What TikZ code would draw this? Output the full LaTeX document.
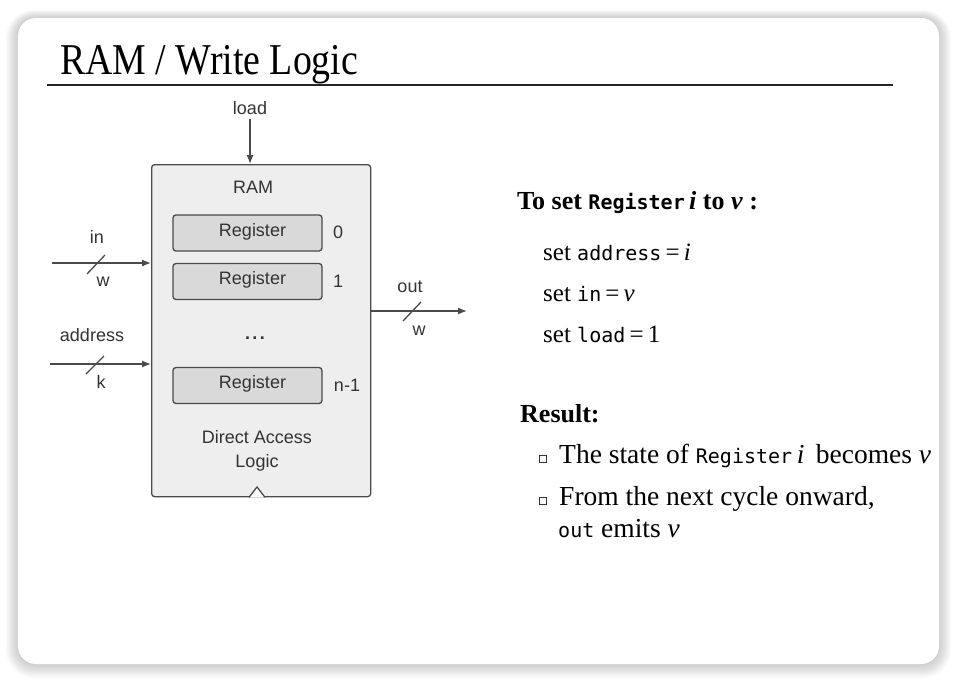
\documentclass[tikz,border=0pt]{standalone}
\usepackage{fontspec}
\setmainfont{Liberation Serif}
\setsansfont{Liberation Sans}
\setmonofont{DejaVu Sans Mono}
\usetikzlibrary{arrows.meta}
\definecolor{inkc}{HTML}{333333}
\definecolor{linec}{HTML}{4A4A4A}
\definecolor{ramfill}{HTML}{EEEEEE}
\definecolor{regfill}{HTML}{D9D9D9}
\tikzset{
  lab/.style={inner sep=0pt, text=inkc, font=\sffamily\fontsize{18}{21}\selectfont},
  rambox/.style={draw=linec, line width=1.3pt, fill=ramfill, rounded corners=3pt, anchor=north west, minimum width=219pt, minimum height=332pt, inner sep=0pt},
  regbox/.style={draw=linec, line width=1.3pt, fill=regfill, rounded corners=3pt, minimum width=149pt, minimum height=36pt, inner sep=0pt},
  arr/.style={draw=linec, line width=1.3pt, -{Latex[length=9pt,width=7pt]}},
  bus/.style={draw=linec, line width=1.3pt},
  txt/.style={anchor=base west, inner sep=0pt, text=black, font=\fontsize{25}{28}\selectfont},
  bul/.style={draw=inkc, line width=0.8pt, fill=white, minimum size=7pt, inner sep=0pt}
}
\begin{document}
\begin{tikzpicture}[x=1pt,y=-1pt]
\useasboundingbox (0,0) rectangle (957,683);
% card shadow
\foreach \k in {1,...,10}{
  \fill[black, opacity=0.018, rounded corners={18pt+\k pt}] (18-\k*1.2,18-\k*0.8) rectangle (939+\k*1.2,664+\k*1.4);
}
\fill[white, rounded corners=18pt] (18,18) rectangle (939,664);
% title
\node[anchor=base west, inner sep=0pt, xscale=0.86, font=\fontsize{44}{48}\selectfont] (title) at (60,74) {RAM / Write Logic};
\coordinate (rl) at (47,85);
\coordinate (rr) at (893,85);
\draw[line width=1.8pt, black!85] (rl) -- (rr);

% RAM box
\node[rambox] (ram) at (151,164) {};
\node[lab] (ramlab) at (253,187) {RAM};
\node[regbox] (r0) at (247.5,233) {};
\node[regbox] (r1) at (247.5,281.5) {};
\node[regbox] (rn) at (247.5,385.5) {};
\node[lab] (r0t) at (252.5,231.5) {Register};
\node[lab] (r1t) at (252.5,280) {Register};
\node[lab] (rnt) at (252.5,384) {Register};
\node[lab] (n0) at (338,232) {0};
\node[lab] (n1) at (338,281) {1};
\node[lab] (nn) at (347,385) {n-1};
\node[lab, font=\sffamily\bfseries\fontsize{18}{21}\selectfont] (dots) at (255,338) {.\hspace{2.5pt}.\hspace{2.5pt}.};
\node[lab, align=center, font=\sffamily\fontsize{18}{24}\selectfont] (dal) at (257,451) {Direct Access\\Logic};
\draw[bus, fill=white] ([xshift=-8pt]ram.south -| 257,0) -- (257,487) -- ([xshift=8pt]ram.south -| 257,0);

% load
\node[lab] (load) at (250,108) {load};
\coordinate (loadtop) at (250,119);
\draw[arr] (loadtop) -- (loadtop |- ram.north);

% in
\node[lab] (inlab) at (97,237) {in};
\node[lab] (inw) at (103,282) {w};
\coordinate (inL) at (52,263);
\draw[arr] (inL) -- (inL -| ram.west);
\coordinate (ins1) at (87,274);
\coordinate (ins2) at (105,255);
\draw[bus] (ins1) -- (ins2);

% address
\node[lab] (adlab) at (92,335) {address};
\node[lab] (adk) at (101,382) {k};
\coordinate (adL) at (50,364);
\draw[arr] (adL) -- (adL -| ram.west);
\coordinate (ads1) at (86,374);
\coordinate (ads2) at (104,356);
\draw[bus] (ads1) -- (ads2);

% out
\node[lab] (outlab) at (410,287) {out};
\node[lab] (outw) at (419,331) {w};
\coordinate (outR) at (467,311);
\draw[arr] (outR -| ram.east) -- (outR);
\coordinate (outs1) at (403,321);
\coordinate (outs2) at (421,302);
\draw[bus] (outs1) -- (outs2);

% right text
\node[txt, font=\bfseries\fontsize{26}{30}\selectfont] (h1) at (517,209) {To set {\ttfamily\fontsize{20}{24}\selectfont Register}\,\textit{i} to \textit{v} :};
\node[txt] (l1) at (543,260) {set {\ttfamily\fontsize{20}{24}\selectfont address}\,=\,\textit{i}};
\node[txt] (l2) at (543,301) {set {\ttfamily\fontsize{20}{24}\selectfont in}\,=\,\textit{v}};
\node[txt] (l3) at (543,342) {set {\ttfamily\fontsize{20}{24}\selectfont load}\,=\,1};
\node[txt, font=\bfseries\fontsize{26}{30}\selectfont] (h2) at (520,422) {Result:};
\node[bul] (b1) at (543,459) {};
\node[txt, font=\fontsize{27.5}{30}\selectfont] (t1) at (559,463) {The state of {\ttfamily\fontsize{20}{24}\selectfont Register}\,\textit{i}\, becomes \textit{v}};
\node[bul] (b2) at (543,501) {};
\node[txt, font=\fontsize{27.5}{30}\selectfont] (t2) at (559,505) {From the next cycle onward,};
\node[txt, font=\fontsize{27.5}{30}\selectfont] (t3) at (558,537) {{\ttfamily\fontsize{20}{24}\selectfont out} emits \textit{v}};
\end{tikzpicture}
\end{document}
